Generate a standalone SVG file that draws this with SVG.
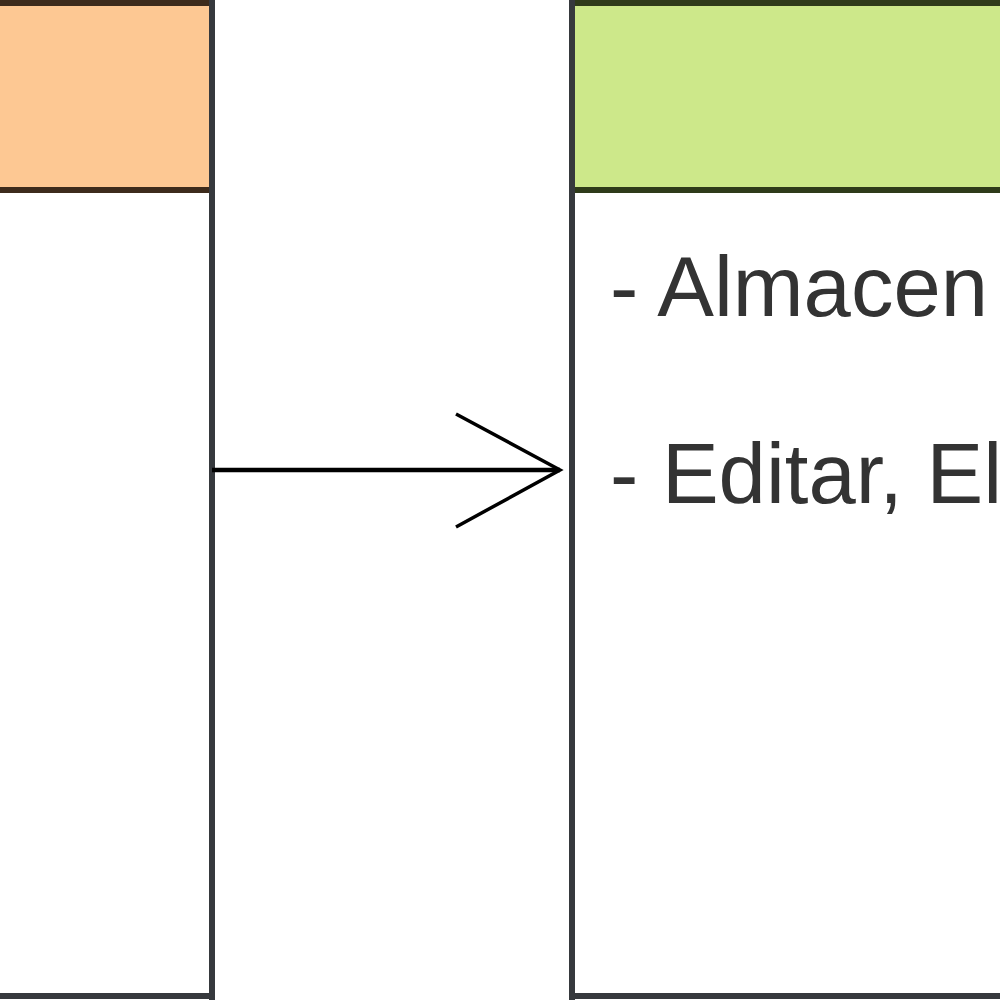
<svg xmlns="http://www.w3.org/2000/svg" width="1000" height="1000" viewBox="0 0 1000 1000">
<style>
.txt{font-family:"Liberation Sans",Arial,sans-serif;font-size:85px;fill:#333333}
.body{fill:#ffffff;stroke:#36393d;stroke-width:6}
</style>
<rect x="0" y="0" width="1000" height="1000" fill="#ffffff"/>
<g id="class-left">
<rect class="body" x="-200" y="190" width="412" height="806"/>
<rect x="-200" y="3" width="412" height="187" fill="#fdc893" stroke="#3d2b1c" stroke-width="6"/>
<line x1="212" y1="0" x2="212" y2="1000" stroke="#36393d" stroke-width="6"/>
</g>
<g id="class-right">
<rect class="body" x="572" y="190" width="600" height="806"/>
<rect x="572" y="3" width="600" height="187" fill="#cde88a" stroke="#2f3b1a" stroke-width="6"/>
<line x1="572" y1="0" x2="572" y2="1000" stroke="#36393d" stroke-width="6"/>
<text class="txt" x="610" y="316">- Almacen</text>
<text class="txt" x="610" y="503">- Editar, El</text>
</g>
<g id="connectors">
<line x1="212" y1="470" x2="560" y2="470" stroke="#000000" stroke-width="4.5"/>
<polyline points="456,414 560,470 456,527" fill="none" stroke="#000000" stroke-width="3.5"/>
</g>
</svg>
